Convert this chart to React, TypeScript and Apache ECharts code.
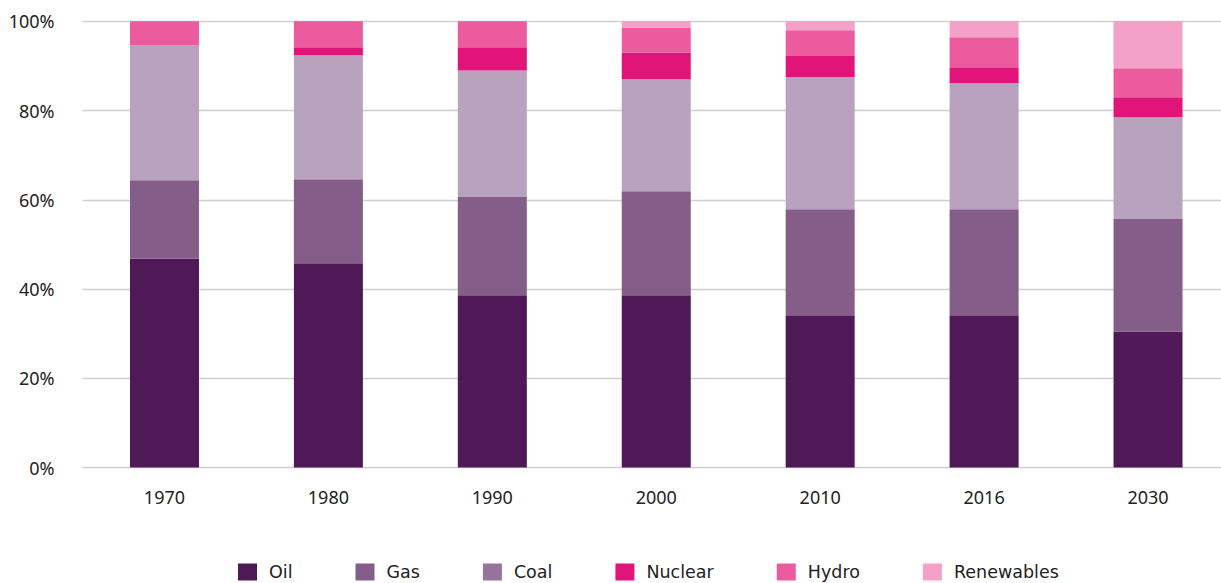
import React, { useEffect, useRef } from "react";
import * as echarts from "echarts";

const years = ["1970", "1980", "1990", "2000", "2010", "2016", "2030"];
const oil = [46.8, 45.8, 38.6, 38.6, 34.1, 34.1, 30.5];
const gas = [17.6, 18.8, 22.0, 23.3, 23.8, 23.8, 25.2];
const coal = [30.2, 27.8, 28.4, 25.1, 29.6, 28.2, 22.8];
const nuclear = [0, 1.8, 5.2, 6.0, 4.7, 3.6, 4.5];
const hydro = [5.4, 5.8, 5.8, 5.6, 5.8, 6.7, 6.5];
const renewables = [0, 0, 0, 1.4, 2.0, 3.6, 10.5];

const seriesNames = ["Oil", "Gas", "Coal", "Nuclear", "Hydro", "Renewables"];
const seriesData = [oil, gas, coal, nuclear, hydro, renewables];
const barColors = ["#4f1856", "#845d88", "#b9a2bd", "#e1147a", "#eb5b9e", "#f3a1c8"];
const legendColors = ["#4f1856", "#845d88", "#97739b", "#e1147a", "#eb5b9e", "#f3a1c8"];

const FONT = "'Noto Sans', sans-serif";
const LEGEND_FONT = "'DejaVu Sans', sans-serif";

export default function App() {
  const ref = useRef<HTMLDivElement>(null);
  useEffect(() => {
    if (!ref.current) return;
    const chart = echarts.init(ref.current, undefined, { renderer: "svg" });
    chart.setOption({
      animation: false,
      backgroundColor: "#ffffff",
      grid: { left: 82.5, top: 21.3, width: 1147.5, height: 446.2, containLabel: false },
      legend: {
        left: 238,
        top: 563,
        padding: 0,
        itemWidth: 19,
        itemHeight: 17,
        itemGap: 63,
        icon: "rect",
        textStyle: {
          fontFamily: LEGEND_FONT,
          fontSize: 17.5,
          lineHeight: 17,
          color: "#222222",
          padding: [0, 0, 0, 7],
        },
        data: seriesNames.map((n, i) => ({ name: n, itemStyle: { color: legendColors[i] } })),
      },
      xAxis: {
        type: "category",
        data: years,
        axisLine: { show: false },
        axisTick: { show: false },
        axisLabel: { fontFamily: FONT, fontSize: 18, color: "#222222", margin: 20 },
      },
      yAxis: {
        type: "value",
        min: 0,
        max: 100,
        interval: 20,
        axisLine: { show: false },
        axisTick: { show: false },
        splitLine: { lineStyle: { color: "#cfcfcf", width: 1.3 } },
        axisLabel: {
          formatter: "{value}%",
          fontFamily: FONT,
          fontSize: 18,
          color: "#222222",
          margin: 28,
        },
      },
      series: seriesNames.map((n, i) => ({
        name: n,
        type: "bar",
        stack: "total",
        barWidth: 69,
        data: seriesData[i],
        itemStyle: { color: barColors[i] },
      })),
    });
    return () => chart.dispose();
  }, []);
  return (
    <div style={{ position: "fixed", left: 0, top: 0, width: 1221, height: 583, overflow: "hidden", background: "#fff" }}>
      <div ref={ref} style={{ width: 1240, height: 583 }} />
    </div>
  );
}
